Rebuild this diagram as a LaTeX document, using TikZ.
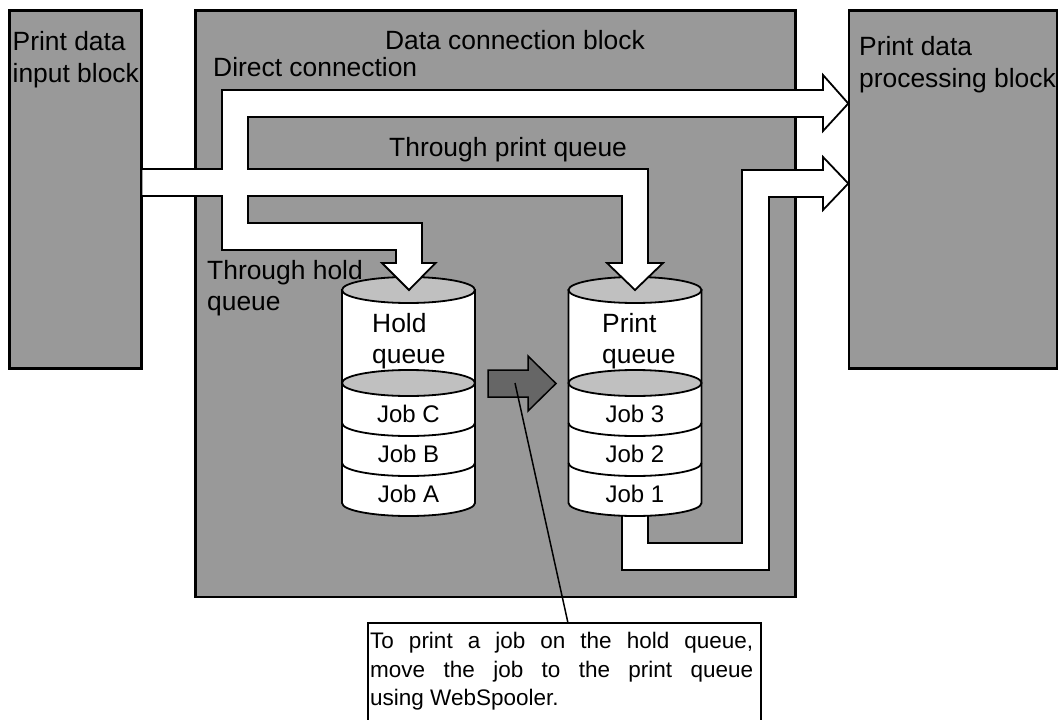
\documentclass[tikz,border=0pt]{standalone}
\usepackage{fontspec}
\setmainfont{Liberation Sans}
\definecolor{blockgray}{RGB}{153,153,153}
\definecolor{capgray}{RGB}{192,192,192}
\definecolor{movegray}{RGB}{102,102,102}
\tikzset{
  blockbox/.style={draw=black, line width=2.5pt, fill=blockgray},
  flowarrow/.style={draw=black, line width=1.8pt, fill=white, line join=miter},
  movearrow/.style={draw=black, line width=1.5pt, fill=movegray, line join=miter},
  cylline/.style={draw=black, line width=1.8pt},
  lbl/.style={font=\fontsize{26.4}{31}\selectfont, inner sep=0pt, anchor=base west},
  joblbl/.style={font=\fontsize{24}{28}\selectfont, inner sep=0pt, anchor=base},
  notetext/.style={font=\fontsize{22.5}{29}\selectfont, inner sep=0pt, anchor=base west},
  leader/.style={draw=black, line width=1.5pt},
}
\newcommand\queuecyl[1]{%
  \draw[cylline, fill=white] (#1-66.5,290) -- (#1-66.5,503)
     arc[start angle=180, end angle=360, x radius=66.5pt, y radius=13pt]
     -- (#1+66.5,290) -- cycle;
  \draw[cylline, fill=capgray] (#1,290) ellipse[x radius=66.5pt, y radius=13pt];
  \draw[cylline, fill=capgray] (#1,383) ellipse[x radius=66.5pt, y radius=13pt];
  \draw[cylline] (#1-66.5,423) arc[start angle=180, end angle=360, x radius=66.5pt, y radius=13pt];
  \draw[cylline] (#1-66.5,463) arc[start angle=180, end angle=360, x radius=66.5pt, y radius=13pt];
}
\begin{document}
\begin{tikzpicture}[x=1pt, y=-1pt]
\useasboundingbox (0,0) rectangle (1061,720);

% blocks
\draw[blockbox] (9.5,10.5) rectangle (141.5,368.5);
\draw[blockbox] (195.5,10.5) rectangle (795.5,597);
\draw[blockbox] (849,10.5) rectangle (1057,368.5);

% lower output arrow (from print queue)
\draw[flowarrow] (622,495) -- (622,570) -- (769,570) -- (769,197) -- (823,197)
  -- (823,210) -- (848.3,183.5) -- (823,157) -- (823,170) -- (742,170)
  -- (742,543) -- (648,543) -- (648,495) -- cycle;

% queues
\queuecyl{408.5}
\queuecyl{635}

% main input arrow with branches
\draw[flowarrow] (141.5,169) -- (222,169) -- (222,90) -- (823,90) -- (823,75)
  -- (848.3,103.5) -- (823,131) -- (823,117) -- (248,117) -- (248,169)
  -- (648,169) -- (648,263) -- (663,263) -- (635,290) -- (607,263) -- (622,263)
  -- (622,196) -- (248,196) -- (248,223) -- (422,223) -- (422,263) -- (435.5,263)
  -- (409,290) -- (382,263) -- (396,263) -- (396,250) -- (222,250) -- (222,196)
  -- (141.5,196) -- cycle;

% move arrow
\draw[movearrow] (488,370) -- (528,370) -- (528,356) -- (556,383.5) -- (528,411)
  -- (528,397) -- (488,397) -- cycle;

% callout
\coordinate (leadstart) at (515,383);
\coordinate (leadend) at (568,623);
\node[draw=black, line width=1.5pt, fill=white, minimum width=393pt, minimum height=98pt,
      anchor=north west, inner sep=0pt, outer sep=0pt] (notebox) at (368,623) {};
\draw[leader] (leadstart) -- (leadend);
\node[notetext] (note1) at (370,648) {\makebox[383pt][s]{To print a job on the hold queue,}};
\node[notetext] (note2) at (370,677) {\makebox[383pt][s]{move the job to the print queue}};
\node[notetext] (note3) at (370,705.5) {using WebSpooler.};

% labels
\node[lbl] (in1) at (12.5,50) {Print data};
\node[lbl] (in2) at (12.5,82) {input block};
\node[lbl, anchor=base] (dcb) at (515,49) {Data connection block};
\node[lbl] (direct) at (213,76) {Direct connection};
\node[lbl] (tpq) at (389,156.5) {Through print queue};
\node[lbl] (thq1) at (207,279) {Through hold};
\node[lbl] (thq2) at (207,310) {queue};
\node[lbl] (out1) at (859,55) {Print data};
\node[lbl] (out2) at (859,87) {processing block};

\node[lbl] (hq1) at (372,332) {Hold};
\node[lbl] (hq2) at (372,363) {queue};
\node[lbl] (pq1) at (602,332) {Print};
\node[lbl] (pq2) at (602,363) {queue};

\node[joblbl] (jc) at (408.5,422.5) {Job C};
\node[joblbl] (jb) at (408.5,462.5) {Job B};
\node[joblbl] (ja) at (408.5,502.5) {Job A};
\node[joblbl] (j3) at (635,422.5) {Job 3};
\node[joblbl] (j2) at (635,462.5) {Job 2};
\node[joblbl] (j1) at (635,502.5) {Job 1};
\end{tikzpicture}
\end{document}
